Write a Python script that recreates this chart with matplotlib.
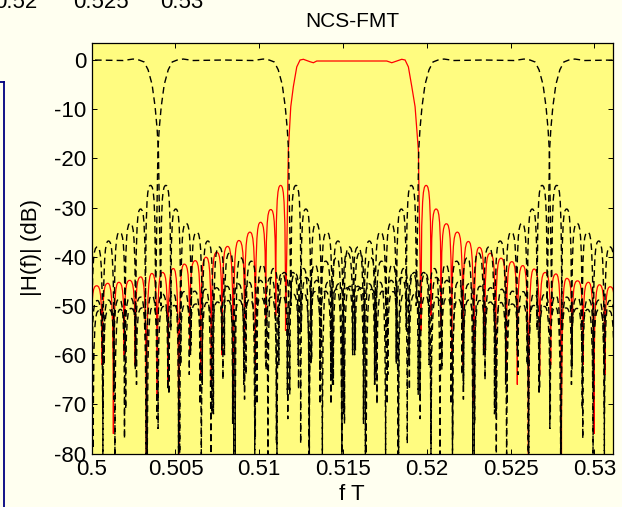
import matplotlib
matplotlib.use('Agg')
import matplotlib.pyplot as plt
from matplotlib.path import Path
from matplotlib.patches import PathPatch
from matplotlib.lines import Line2D

plt.rcParams['font.family'] = 'Liberation Sans'
plt.rcParams['axes.unicode_minus'] = False
plt.rcParams['lines.scale_dashes'] = False

# ---- red curve: NCS-FMT subchannel ----
red_main_f = [0.511737, 0.511881, 0.512036, 0.512239, 0.512436, 0.512633, 0.513033, 0.513230, 0.513433,
              0.517612, 0.517910, 0.518209, 0.518507, 0.518705, 0.518901, 0.519104, 0.519301, 0.519498]
red_main_db = [-18.4, -9.5, -5.4, -1.4, 0.0, 0.15, -0.35, -0.55, -0.2,
               -0.2, -0.55, -0.2, 0.15, 0.0, -1.4, -5.4, -9.5, -18.4]

# sidelobes, listed from the main lobe outwards
red_left_nulls = [0.511570, 0.510985, 0.510388, 0.509767, 0.509122, 0.508448, 0.507779, 0.507140,
                  0.506507, 0.505851, 0.505194, 0.504555, 0.503910, 0.503266, 0.502597, 0.501940,
                  0.501296, 0.500627, 0.499970]
red_left_peaks = [-25.5, -30.4, -33.0, -35.0, -36.7, -37.9, -39.1, -40.1, -40.8, -41.5, -42.4,
                  -43.2, -43.4, -44.1, -44.8, -45.2, -45.4, -45.9]
red_left_depths = [-55, -52, -54, -62, -58, -70, -60, -66, -64, -60, -85, -66, -68, -85, -62,
                   -60, -76, -62, -60]

red_right_nulls = [0.519660, 0.520257, 0.520854, 0.521487, 0.522155, 0.522812, 0.523456, 0.524107,
                   0.524752, 0.525403, 0.526065, 0.526734, 0.527391, 0.528036, 0.528674, 0.529319,
                   0.529976, 0.530627, 0.531266]
red_right_peaks = [-25.5, -30.3, -33.3, -35.0, -36.9, -38.1, -39.3, -40.3, -41.0, -41.8, -42.5,
                   -43.2, -43.5, -44.4, -44.9, -45.2, -45.7, -46.1]
red_right_depths = [-55, -52, -54, -60, -62, -70, -60, -64, -62, -66, -85, -64, -62, -85, -60,
                    -62, -76, -64, -60]

# ---- dashed curves: neighbouring subchannels ----
dash_centers = [0.500084, 0.507851, 0.523415, 0.531224]
# half main lobe: offset from centre, dB
dash_main_off = [0.0, 0.001791, 0.002388, 0.002746, 0.003045, 0.003284, 0.003522, 0.003701,
                 0.003821, 0.003898]
dash_main_db = [0.0, -0.1, 0.2, 0.0, -0.4, -2.0, -5.0, -9.5, -14.0, -18.4]
# sidelobe nulls (offset from centre), peaks and null depths
dash_null_off = [0.004045, 0.004639, 0.005230, 0.005857, 0.006519, 0.007182, 0.007839, 0.008484,
                 0.009122, 0.009779, 0.010436, 0.011086, 0.011737, 0.012388, 0.013039, 0.013683,
                 0.014340, 0.015003, 0.015654, 0.016298, 0.016943, 0.017588, 0.018233, 0.018877,
                 0.019522, 0.020167, 0.020812, 0.021457, 0.022101, 0.022746, 0.023391, 0.024036,
                 0.024680, 0.025325, 0.025970, 0.026615, 0.027259, 0.027904, 0.028549, 0.029194,
                 0.029838, 0.030483, 0.031128, 0.031773, 0.032418]
dash_peaks = [-25.5, -30.3, -33.2, -35.0, -36.8, -38.0, -39.2, -40.2, -40.9, -41.6, -42.4, -43.2,
              -43.4, -44.2, -44.8, -45.2, -45.5, -46.0, -46.3, -46.6, -47.0, -47.1, -47.5, -47.6,
              -47.9, -48.2, -48.3, -48.6, -48.8, -48.9, -49.2, -49.3, -49.6, -49.7, -49.9, -50.1,
              -50.2, -50.4, -50.5, -50.7, -50.8, -51.0, -51.1, -51.3]
dash_depths = [-50, -55, -62, -58, -66, -72, -60, -85, -64, -70, -90, -62, -68, -78, -61, -88,
               -66, -74, -59, -90, -70, -64, -82, -67, -73, -90, -63, -77, -69, -86, -65, -72,
               -90, -60, -80, -68, -75, -90, -66, -71, -84, -62, -79, -90, -70]

xticks = [0.5, 0.505, 0.51, 0.515, 0.52, 0.525, 0.53]
xticklabels = ['0.5', '0.505', '0.51', '0.515', '0.52', '0.525', '0.53']
yticks = [-80, -70, -60, -50, -40, -30, -20, -10, 0]


def sidelobes(nulls, peaks, depths):
    # two bezier halves per lobe, nulls in increasing order
    verts, codes = [], []
    for i, p in enumerate(peaks):
        x0, x1 = nulls[i], nulls[i + 1]
        y0, y1 = depths[i], depths[i + 1]
        w = x1 - x0
        verts += [(x0, y0 + 0.9 * (p - y0)), (x0 + 0.15 * w, p), ((x0 + x1) / 2, p),
                  (x1 - 0.15 * w, p), (x1, y1 + 0.9 * (p - y1)), (x1, y1)]
        codes += [Path.CURVE4] * 6
    return verts, codes


def response(left_nulls, left_peaks, left_depths, main_f, main_db,
             right_nulls, right_peaks, right_depths):
    ln, lp, ld = left_nulls[::-1], left_peaks[::-1], left_depths[::-1]
    verts = [(ln[0], ld[0])]
    codes = [Path.MOVETO]
    v, c = sidelobes(ln, lp, ld)
    verts += v
    codes += c
    verts += list(zip(main_f, main_db))
    codes += [Path.LINETO] * len(main_f)
    verts.append((right_nulls[0], right_depths[0]))
    codes.append(Path.LINETO)
    v, c = sidelobes(right_nulls, right_peaks, right_depths)
    verts += v
    codes += c
    return Path(verts, codes)


fig = plt.figure(figsize=(6.22, 5.07), dpi=100, facecolor='#FFFFF0')
ax = fig.add_axes([0.1474, 0.1055, 0.8386, 0.8091])
ax.set_facecolor('#FFFC80')

red = response(red_left_nulls, red_left_peaks, red_left_depths, red_main_f, red_main_db,
               red_right_nulls, red_right_peaks, red_right_depths)
ax.add_patch(PathPatch(red, fill=False, edgecolor='red', lw=0.9, zorder=2))

for c in dash_centers:
    ln = [c - o for o in dash_null_off]
    rn = [c + o for o in dash_null_off]
    mf = [c - o for o in dash_main_off[::-1]] + [c + o for o in dash_main_off[1:]]
    md = dash_main_db[::-1] + dash_main_db[1:]
    p = response(ln, dash_peaks, dash_depths, mf, md, rn, dash_peaks, dash_depths)
    ax.add_patch(PathPatch(p, fill=False, edgecolor='black', lw=1.0,
                           linestyle=(0, (4.8, 3.0)), zorder=3))

ax.set_xlim(0.5, 0.53113)
ax.set_ylim(-80, 3.4)
ax.set_xticks(xticks)
ax.set_xticklabels(xticklabels)
ax.set_yticks(yticks)
ax.set_yticklabels([str(v) for v in yticks])
ax.tick_params(direction='in', length=3.5, width=0.7, top=True, right=True,
               labelsize=16, pad=4)
for s in ax.spines.values():
    s.set_linewidth(0.9)

ax.text(0.5, 1.052, 'NCS-FMT', transform=ax.transAxes, ha='center', va='center', fontsize=15)
fig.text(31 / 622, 1 - 248 / 507, '|H(f)| (dB)', rotation=90, ha='center', va='center', fontsize=16)
fig.text(352 / 622, 1 - 494 / 507, 'f T', ha='center', va='center', fontsize=16)

# bits of the slide around the chart: tick labels of the plot above, frame edge on the left
for x, s in [(16, '0.52'), (101, '0.525'), (182, '0.53')]:
    fig.text(x / 622, 1 - 3 / 507, s, ha='center', va='center', fontsize=16)
fig.add_artist(Line2D([3.5 / 622, 3.5 / 622], [1 - 82 / 507, 0], transform=fig.transFigure,
                      color='#000080', lw=1.3))
fig.add_artist(Line2D([0, 3.5 / 622], [1 - 82 / 507, 1 - 82 / 507], transform=fig.transFigure,
                      color='#000080', lw=1.3))

fig.savefig('out.png', dpi=100, facecolor=fig.get_facecolor())
